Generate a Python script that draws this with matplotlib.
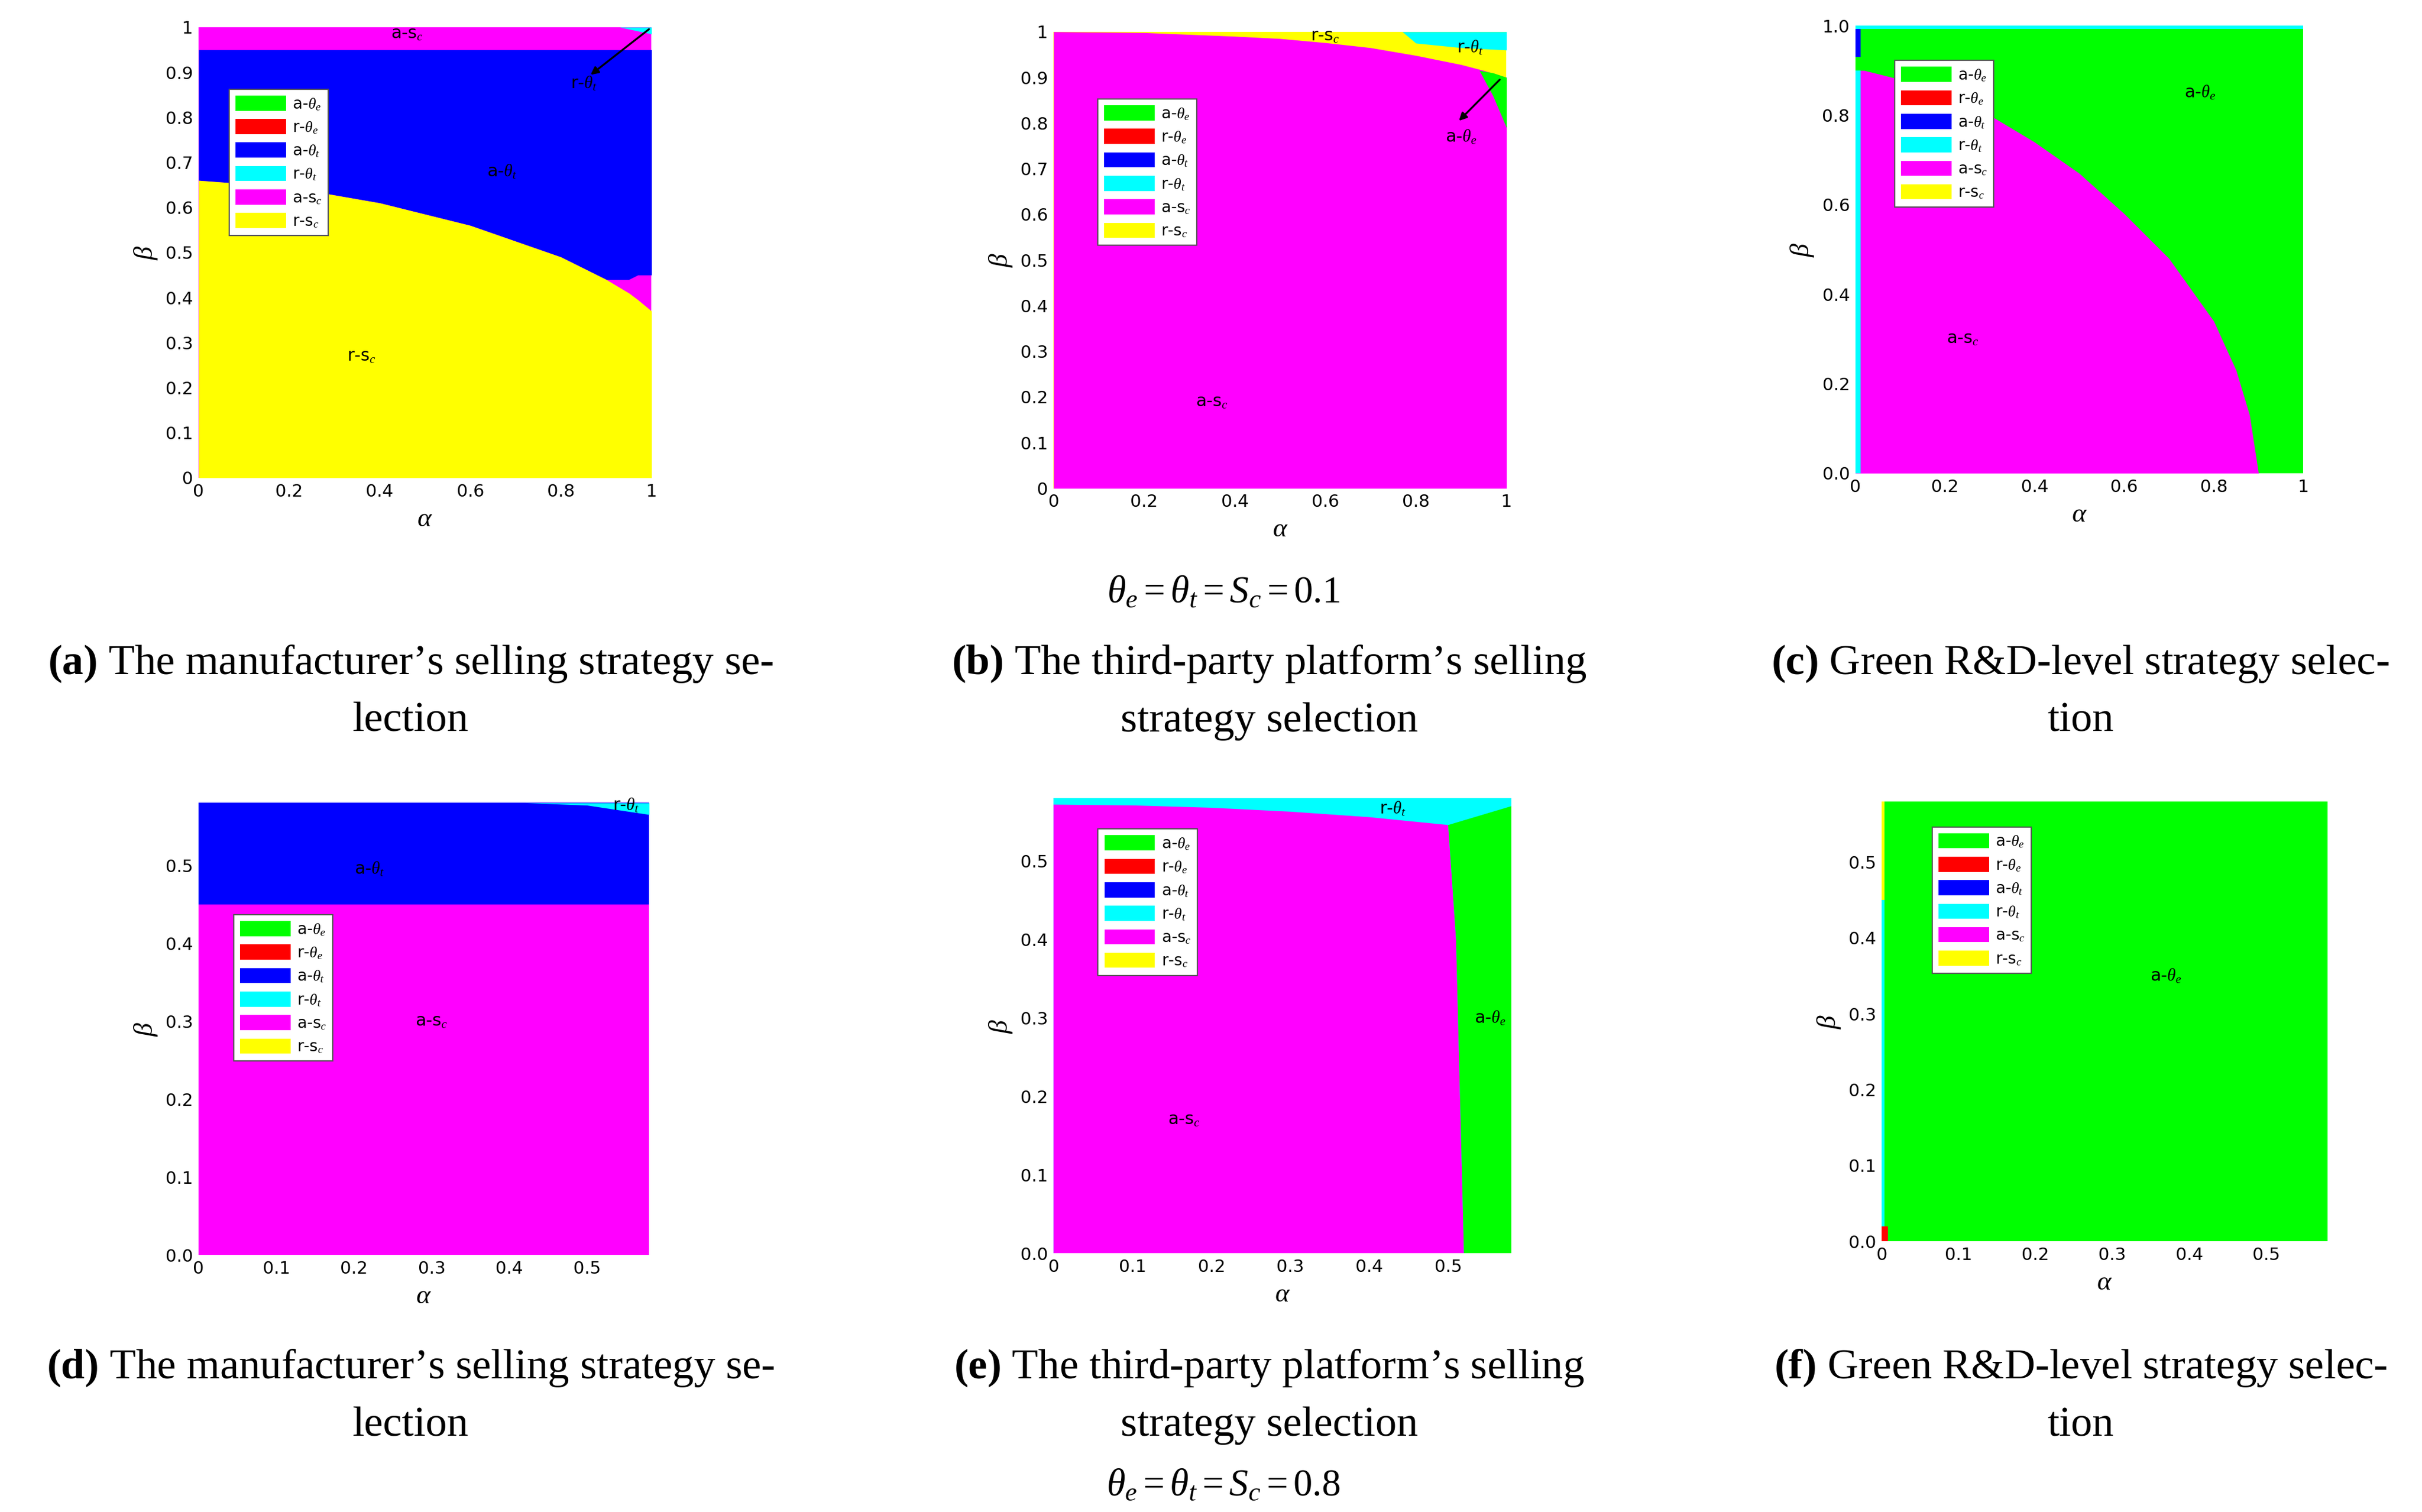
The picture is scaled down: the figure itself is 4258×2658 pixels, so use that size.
import matplotlib.pyplot as plt
from matplotlib.patches import Patch

plt.rcParams['mathtext.fontset'] = 'custom'
plt.rcParams['mathtext.rm'] = 'Liberation Serif'
plt.rcParams['mathtext.it'] = 'Liberation Serif:italic'
plt.rcParams['mathtext.bf'] = 'Liberation Serif:bold'

GREEN, RED, BLUE, CYAN, MAG, YEL = '#00ff00', '#ff0000', '#0000ff', '#00ffff', '#ff00ff', '#ffff00'

legend_labels = [r'a-$\theta_e$', r'r-$\theta_e$', r'a-$\theta_t$', r'r-$\theta_t$', r'a-s$_c$', r'r-s$_c$']
legend_colors = [GREEN, RED, BLUE, CYAN, MAG, YEL]

# ---- panel a boundaries (theta=0.1) ----
a_alpha = [0, 0.2, 0.4, 0.6, 0.8, 0.9, 0.95, 0.97, 1.0]
a_yellow_top = [0.66, 0.645, 0.61, 0.56, 0.49, 0.44, 0.41, 0.395, 0.37]
a_blue_bottom = [0.66, 0.645, 0.61, 0.56, 0.49, 0.44, 0.44, 0.45, 0.45]
a_blue_top = 0.95
a_cyan_alpha = [0.93, 1.0]
a_cyan_bottom = [1.0, 0.985]

# ---- panel b ----
b_alpha = [0, 0.2, 0.4, 0.5, 0.6, 0.7, 0.8, 0.9, 0.95, 1.0]
b_mag_top = [1.0, 0.998, 0.99, 0.985, 0.976, 0.965, 0.948, 0.928, 0.915, 0.9]
b_cyan_alpha = [0.77, 0.8, 0.9, 1.0]
b_cyan_bottom = [1.0, 0.975, 0.965, 0.96]
b_green_alpha = [0.94, 0.97, 1.0]
b_green_bottom = [0.915, 0.86, 0.79]
b_green_top = [0.915, 0.91, 0.9]

# ---- panel c ----
c_alpha = [0.0, 0.02, 0.1, 0.2, 0.3, 0.4, 0.5, 0.6, 0.7, 0.8, 0.85, 0.88, 0.9]
c_mag_top = [0.9, 0.9, 0.88, 0.85, 0.8, 0.74, 0.67, 0.58, 0.48, 0.34, 0.23, 0.13, 0.0]

# ---- panel d (theta=0.8) ----
d_lim = 0.58
d_blue_bottom = 0.45
d_cyan_alpha = [0.42, 0.5, 0.58]
d_cyan_bottom = [0.58, 0.577, 0.565]

# ---- panel e ----
e_alpha_top = [0, 0.1, 0.2, 0.3, 0.4, 0.5]
e_mag_top = [0.572, 0.571, 0.568, 0.563, 0.556, 0.546]
e_boundary_beta = [0.546, 0.4, 0.2, 0.0]
e_boundary_alpha = [0.5, 0.51, 0.515, 0.52]
e_green_top_alpha = [0.5, 0.58]
e_green_top = [0.546, 0.57]


def draw_legend(ax, anchor):
    handles = [Patch(facecolor=c, edgecolor='none') for c in legend_colors]
    leg = ax.legend(handles, legend_labels, loc='upper left', bbox_to_anchor=anchor,
                    fontsize=10, handlelength=3.2, handleheight=1.1, labelspacing=0.45,
                    handletextpad=0.4, borderpad=0.4, fancybox=False, framealpha=1,
                    edgecolor='#555555')
    leg.get_frame().set_linewidth(0.8)


def style(ax, lim, ticks):
    ax.set_xlim(0, lim)
    ax.set_ylim(0, lim)
    ax.set_xticks(ticks)
    ax.set_yticks(ticks if lim > 0.9 else ticks)
    ax.set_xticklabels([f'{t:g}' for t in ticks])
    ax.tick_params(labelsize=11, direction='in', length=0)
    ax.set_xlabel(r'$\alpha$', fontsize=17)
    ax.set_ylabel(r'$\beta$', fontsize=17)
    for s in ax.spines.values():
        s.set_visible(False)


def lbl(ax, x, y, s):
    ax.text(x, y, s, fontsize=11, ha='center', va='center')


fig = plt.figure(figsize=(21.29, 13.29), dpi=200)
fig.patch.set_facecolor('white')

t1 = [0, 0.2, 0.4, 0.6, 0.8, 1]
t1y = [0, 0.1, 0.2, 0.3, 0.4, 0.5, 0.6, 0.7, 0.8, 0.9, 1]
t2 = [0, 0.1, 0.2, 0.3, 0.4, 0.5]

# (a)
ax = fig.add_axes([0.082, 0.684, 0.187, 0.298])
ax.fill_between([0, 1], 0, 1, color=MAG, lw=0)
ax.fill_between(a_alpha, a_blue_bottom, a_blue_top, color=BLUE, lw=0)
ax.fill_between(a_alpha, 0, a_yellow_top, color=YEL, lw=0)
ax.fill_between(a_cyan_alpha, a_cyan_bottom, 1, color=CYAN, lw=0)
style(ax, 1, t1)
ax.set_yticks(t1y)
ax.set_yticklabels([f'{t:g}' for t in t1y])
ax.annotate('', xy=(0.86, 0.89), xytext=(1.0, 1.0), arrowprops=dict(arrowstyle='-|>', color='black', lw=1.2))
lbl(ax, 0.46, 0.985, r'a-s$_c$')
lbl(ax, 0.85, 0.875, r'r-$\theta_t$')
lbl(ax, 0.67, 0.68, r'a-$\theta_t$')
lbl(ax, 0.36, 0.27, r'r-s$_c$')
draw_legend(ax, (0.05, 0.88))

# (b)
ax = fig.add_axes([0.435, 0.677, 0.187, 0.302])
ax.fill_between([0, 1], 0, 1, color=YEL, lw=0)
ax.fill_between(b_alpha, 0, b_mag_top, color=MAG, lw=0)
ax.fill_between(b_cyan_alpha, b_cyan_bottom, 1, color=CYAN, lw=0)
ax.fill_between(b_green_alpha, b_green_bottom, b_green_top, color=GREEN, lw=0)
style(ax, 1, t1)
ax.set_yticks(t1y)
ax.set_yticklabels([f'{t:g}' for t in t1y])
ax.annotate('', xy=(0.89, 0.8), xytext=(0.99, 0.9), arrowprops=dict(arrowstyle='-|>', color='black', lw=1.2))
lbl(ax, 0.6, 0.99, r'r-s$_c$')
lbl(ax, 0.92, 0.965, r'r-$\theta_t$')
lbl(ax, 0.9, 0.77, r'a-$\theta_e$')
lbl(ax, 0.35, 0.19, r'a-s$_c$')
draw_legend(ax, (0.08, 0.87))

# (c)
ax = fig.add_axes([0.766, 0.687, 0.185, 0.296])
ax.fill_between([0, 1], 0, 1, color=GREEN, lw=0)
ax.fill_between(c_alpha, 0, c_mag_top, color=MAG, lw=0)
ax.fill_between([0, 0.012], 0, 0.9, color=CYAN, lw=0)
ax.fill_between([0, 0.012], 0.93, 1, color=BLUE, lw=0)
ax.fill_between([0, 1], 0.993, 1, color=CYAN, lw=0)
style(ax, 1, t1)
lbl(ax, 0.77, 0.85, r'a-$\theta_e$')
lbl(ax, 0.24, 0.3, r'a-s$_c$')
draw_legend(ax, (0.07, 0.94))

# (d)
ax = fig.add_axes([0.082, 0.170, 0.186, 0.299])
ax.fill_between([0, d_lim], 0, d_blue_bottom, color=MAG, lw=0)
ax.fill_between([0, d_lim], d_blue_bottom, d_lim, color=BLUE, lw=0)
ax.fill_between(d_cyan_alpha, d_cyan_bottom, d_lim, color=CYAN, lw=0)
style(ax, d_lim, t2)
lbl(ax, 0.55, 0.577, r'r-$\theta_t$')
lbl(ax, 0.22, 0.495, r'a-$\theta_t$')
lbl(ax, 0.3, 0.3, r'a-s$_c$')
draw_legend(ax, (0.06, 0.77))

# (e)
ax = fig.add_axes([0.435, 0.171, 0.189, 0.301])
ax.fill_between([0, d_lim], 0, d_lim, color=CYAN, lw=0)
ax.fill(e_alpha_top + e_boundary_alpha + [0], e_mag_top + e_boundary_beta + [0], color=MAG, lw=0)
ax.fill(e_boundary_alpha[::-1] + e_green_top_alpha + [d_lim],
        e_boundary_beta[::-1] + e_green_top + [0], color=GREEN, lw=0)
style(ax, d_lim, t2)
lbl(ax, 0.43, 0.567, r'r-$\theta_t$')
lbl(ax, 0.553, 0.3, r'a-$\theta_e$')
lbl(ax, 0.165, 0.17, r'a-s$_c$')
draw_legend(ax, (0.08, 0.95))

# (f)
ax = fig.add_axes([0.777, 0.179, 0.184, 0.291])
ax.fill_between([0, d_lim], 0, d_lim, color=GREEN, lw=0)
ax.fill_between([0, 0.003], 0, 0.45, color=CYAN, lw=0)
ax.fill_between([0, 0.003], 0.45, d_lim, color=YEL, lw=0)
ax.fill_between([0, 0.008], 0, 0.02, color=RED, lw=0)
style(ax, d_lim, t2)
lbl(ax, 0.37, 0.35, r'a-$\theta_e$')
draw_legend(ax, (0.095, 0.96))

# captions
cap = dict(fontsize=27, family='Liberation Serif', ha='center', va='center')
fig.text(0.1695, 0.561, r"$\mathbf{(a)}$ The manufacturer’s selling strategy se-", **cap)
fig.text(0.1695, 0.523, "lection", **cap)
fig.text(0.524, 0.561, r"$\mathbf{(b)}$ The third-party platform’s selling", **cap)
fig.text(0.524, 0.523, "strategy selection", **cap)
fig.text(0.859, 0.561, r"$\mathbf{(c)}$ Green R&D-level strategy selec-", **cap)
fig.text(0.859, 0.523, "tion", **cap)
fig.text(0.1695, 0.095, r"$\mathbf{(d)}$ The manufacturer’s selling strategy se-", **cap)
fig.text(0.1695, 0.057, "lection", **cap)
fig.text(0.524, 0.095, r"$\mathbf{(e)}$ The third-party platform’s selling", **cap)
fig.text(0.524, 0.057, "strategy selection", **cap)
fig.text(0.859, 0.095, r"$\mathbf{(f)}$ Green R&D-level strategy selec-", **cap)
fig.text(0.859, 0.057, "tion", **cap)
fig.text(0.505, 0.609, r'$\theta_e=\theta_t=S_c=0.1$', fontsize=24, ha='center', va='center')
fig.text(0.505, 0.018, r'$\theta_e=\theta_t=S_c=0.8$', fontsize=24, ha='center', va='center')

fig.savefig('out.png', dpi=200, facecolor='white')
